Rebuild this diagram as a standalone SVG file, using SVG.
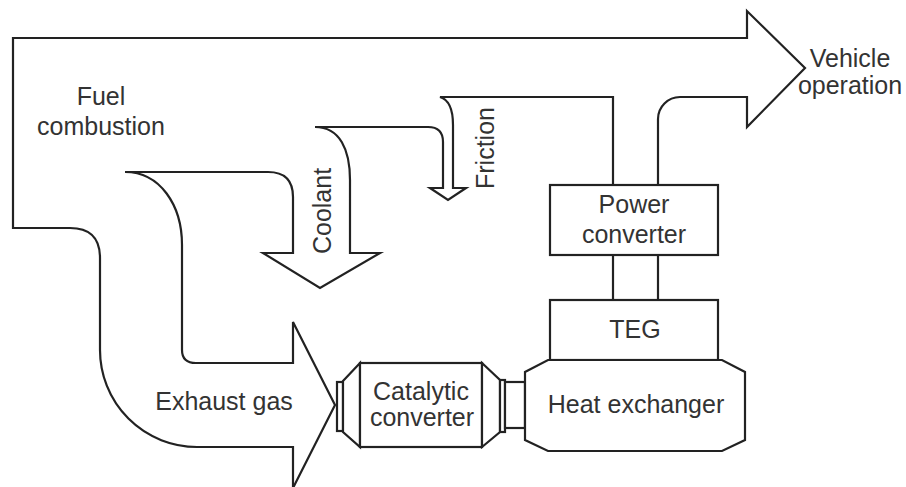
<svg xmlns="http://www.w3.org/2000/svg" width="906" height="487" viewBox="0 0 906 487">
<style>
.ln{fill:none;stroke:#222;stroke-width:2.2;stroke-linejoin:miter}
.bx{fill:#fff;stroke:#222;stroke-width:2.2}
.t{font-family:"Liberation Sans",Arial,sans-serif;font-size:25px;fill:#333;text-anchor:middle}
</style>
<rect width="906" height="487" fill="#fff"/>
<g id="connectors">
<path id="flow-main" class="ln" d="M293,488 L293,447 L197,447 A97,97 0 0 1 100,350 L100,258 Q100,228 70,228 L13,228 L13,38 L747,38 L747,11 L805,68 L747,127 L747,97 L680,97 A22,22 0 0 0 658,119 L658,185"/>
<path id="flow-inner" class="ln" d="M613,185 L613,97 L440,97 C450,100 453,110 453,125 L453,188 L466,188 L448,200 L430,188 L443,188 L443,142 Q443,127 428,127 L315,127 C340,127 350,150 350,180 L350,253 L380,253 L320,288 L263,253 L293,253 L293,197 Q293,172 268,172 L125,172 C160,172 182,205 182,245 L182,350 Q182,363 196,363 L293,363 L293,322 L335,405 L293,488"/>
<line class="ln" x1="613" y1="255" x2="613" y2="300"/>
<line class="ln" x1="658" y1="255" x2="658" y2="300"/>
</g>
<g id="fuel-combustion">
<text class="t" x="101" y="105">Fuel</text>
<text class="t" x="101" y="135">combustion</text>
</g>
<g id="vehicle-operation">
<text class="t" x="850" y="67">Vehicle</text>
<text class="t" x="850" y="94">operation</text>
</g>
<g id="coolant"><text class="t" transform="translate(331,211) rotate(-90)">Coolant</text></g>
<g id="friction"><text class="t" transform="translate(494,148) rotate(-90)">Friction</text></g>
<g id="exhaust-gas"><text class="t" x="224" y="410">Exhaust gas</text></g>
<g id="power-converter">
<rect class="bx" x="550" y="185" width="168" height="70"/>
<text class="t" x="634" y="213">Power</text>
<text class="t" x="634" y="243">converter</text>
</g>
<g id="teg">
<rect class="bx" x="550" y="300" width="168" height="60"/>
<text class="t" x="635" y="338">TEG</text>
</g>
<g id="catalytic-converter">
<rect class="bx" x="337" y="382" width="6" height="49"/>
<path class="bx" d="M343,381 L360,363 L360,447 L343,432 Z"/>
<rect class="bx" x="360" y="363" width="122" height="84"/>
<path class="bx" d="M482,363 L500,380 L500,432 L482,447 Z"/>
<rect class="bx" x="500" y="380" width="5" height="52"/>
<text class="t" x="421" y="400">Catalytic</text>
<text class="t" x="422" y="426">converter</text>
</g>
<g id="pipe"><rect class="bx" x="505" y="382" width="20" height="46"/></g>
<g id="heat-exchanger">
<path class="bx" d="M548,360 L722,360 L745,372 L745,440 L722,451 L548,451 L525,440 L525,372 Z"/>
<text class="t" x="636" y="413">Heat exchanger</text>
</g>
</svg>
